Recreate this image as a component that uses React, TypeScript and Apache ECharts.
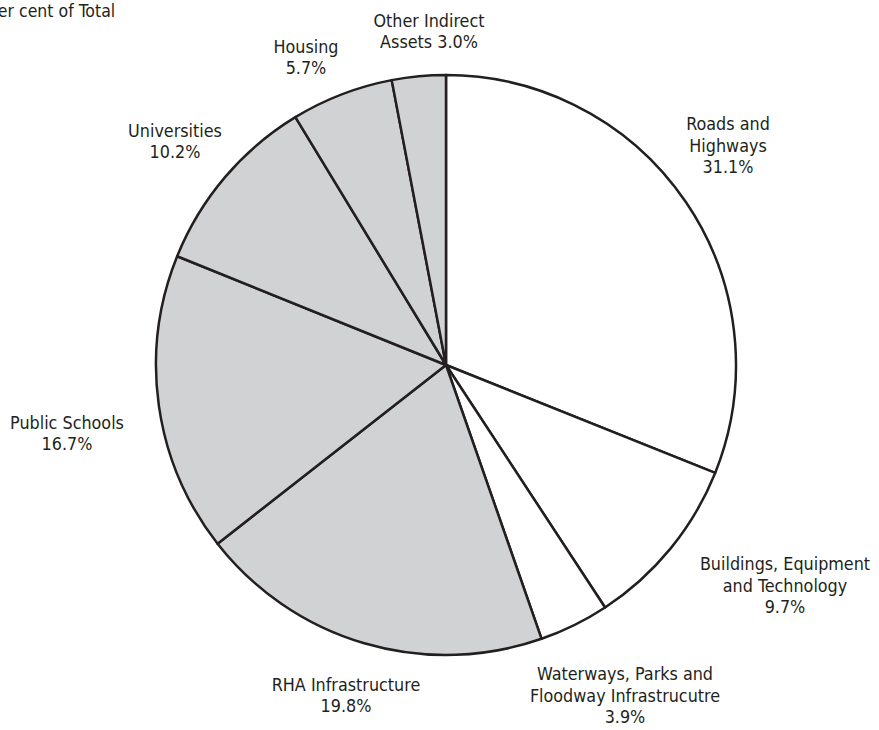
import React, { useEffect, useRef } from "react";
import * as echarts from "echarts";

const categories = [
  "Roads and\nHighways",
  "Buildings, Equipment\nand Technology",
  "Waterways, Parks and\nFloodway Infrastrucutre",
  "RHA Infrastructure",
  "Public Schools",
  "Universities",
  "Housing",
  "Other Indirect\nAssets",
];
const values = [31.1, 9.7, 3.9, 19.8, 16.7, 10.2, 5.7, 3.0];
const inlinePct = [false, false, false, false, false, false, false, true];
const fills = ["#ffffff", "#ffffff", "#ffffff", "#d1d2d4", "#d1d2d4", "#d1d2d4", "#d1d2d4", "#d1d2d4"];
const labelPos: [number, number][] = [
  [728, 145],
  [785, 585],
  [625, 695],
  [346, 695],
  [67, 433],
  [175, 141],
  [306, 57],
  [429, 31],
];
const title = "Per cent of Total";

const FONT = "'DejaVu Sans Condensed', 'Liberation Sans Narrow', sans-serif";

export default function App() {
  const ref = useRef<HTMLDivElement>(null);
  useEffect(() => {
    document.body.style.margin = "0";
    const chart = echarts.init(ref.current!, null, { renderer: "svg" });
    chart.setOption({
      animation: false,
      backgroundColor: "#ffffff",
      graphic: [
        {
          type: "text",
          left: -11,
          top: 2,
          style: { text: title, font: `17.5px ${FONT}`, fill: "#231f20" },
        },
      ],
      series: [
        {
          type: "pie",
          center: [446, 365],
          radius: [0, 290],
          startAngle: 90,
          clockwise: true,
          avoidLabelOverlap: false,
          itemStyle: { borderColor: "#231f20", borderWidth: 2.5 },
          labelLine: { show: false },
          label: {
            show: true,
            position: "outside",
            color: "#231f20",
            fontFamily: FONT,
            fontSize: 17.8,
            lineHeight: 21.5,
            align: "center",
            formatter: (p: any) =>
              inlinePct[p.dataIndex]
                ? `${p.name} ${values[p.dataIndex].toFixed(1)}%`
                : `${p.name}\n${values[p.dataIndex].toFixed(1)}%`,
          },
          labelLayout: (p: any) => ({
            x: labelPos[p.dataIndex][0],
            y: labelPos[p.dataIndex][1],
            align: "center",
            verticalAlign: "middle",
          }),
          data: categories.map((c, i) => ({
            name: c,
            value: values[i],
            itemStyle: { color: fills[i] },
          })),
        },
      ],
    });
    return () => chart.dispose();
  }, []);
  return <div ref={ref} style={{ width: 879, height: 730, position: "absolute", left: 0, top: 0 }} />;
}
